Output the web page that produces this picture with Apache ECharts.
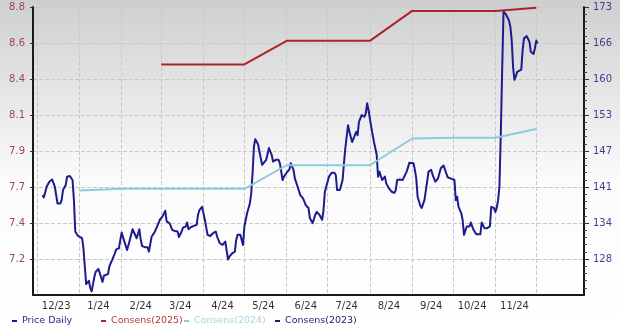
<!DOCTYPE html>
<html><head><meta charset="utf-8">
<script src="https://cdn.jsdelivr.net/npm/echarts@6/dist/echarts.min.js"></script>
<style>html,body{margin:0;padding:0;background:#fff}#c{width:620px;height:328px}</style>
</head><body><div id="c"></div>
<script>
// ---------- data ----------
const priceDates = [
'2023-12-05','2023-12-06','2023-12-08','2023-12-10','2023-12-12','2023-12-14','2023-12-16','2023-12-18','2023-12-19','2023-12-20','2023-12-22','2023-12-23','2023-12-25','2023-12-27','2023-12-28','2023-12-29','2023-12-31',
'2024-01-03','2024-01-04','2024-01-05','2024-01-06','2024-01-07','2024-01-08','2024-01-09','2024-01-10','2024-01-12','2024-01-13','2024-01-15','2024-01-16','2024-01-18','2024-01-19','2024-01-22','2024-01-23','2024-01-25','2024-01-27','2024-01-28','2024-01-30','2024-01-31',
'2024-02-01','2024-02-03','2024-02-05','2024-02-07','2024-02-09','2024-02-10','2024-02-12','2024-02-14','2024-02-15','2024-02-16','2024-02-18','2024-02-20','2024-02-21','2024-02-23','2024-02-25','2024-02-27','2024-02-29',
'2024-03-02','2024-03-04','2024-03-05','2024-03-07','2024-03-08','2024-03-09','2024-03-11','2024-03-13','2024-03-14','2024-03-16','2024-03-17','2024-03-19','2024-03-20','2024-03-21','2024-03-23','2024-03-25','2024-03-27','2024-03-28','2024-03-29','2024-03-31',
'2024-04-01','2024-04-02','2024-04-04','2024-04-06','2024-04-08','2024-04-10','2024-04-11','2024-04-13','2024-04-15','2024-04-17','2024-04-19','2024-04-20','2024-04-22','2024-04-24','2024-04-25','2024-04-26','2024-04-28','2024-04-30',
'2024-05-01','2024-05-03','2024-05-05','2024-05-06','2024-05-07','2024-05-08','2024-05-09','2024-05-11','2024-05-12','2024-05-14','2024-05-15','2024-05-17','2024-05-19','2024-05-21','2024-05-22','2024-05-24','2024-05-26','2024-05-27','2024-05-29','2024-05-30',
'2024-06-01','2024-06-03','2024-06-04','2024-06-06','2024-06-07','2024-06-09','2024-06-11','2024-06-12','2024-06-13','2024-06-15','2024-06-17','2024-06-18','2024-06-20','2024-06-22','2024-06-23','2024-06-25','2024-06-27','2024-06-28','2024-06-29','2024-06-30',
'2024-07-01','2024-07-02','2024-07-04','2024-07-06','2024-07-07','2024-07-08','2024-07-10','2024-07-12','2024-07-13','2024-07-14','2024-07-16','2024-07-17','2024-07-19','2024-07-20','2024-07-22','2024-07-23','2024-07-24','2024-07-26','2024-07-28','2024-07-29','2024-07-30','2024-07-31',
'2024-08-02','2024-08-04','2024-08-06','2024-08-07','2024-08-08','2024-08-10','2024-08-12','2024-08-13','2024-08-15','2024-08-17','2024-08-19','2024-08-20','2024-08-21','2024-08-23','2024-08-25','2024-08-26','2024-08-28','2024-08-30','2024-08-31',
'2024-09-02','2024-09-03','2024-09-04','2024-09-05','2024-09-07','2024-09-08','2024-09-10','2024-09-12','2024-09-13','2024-09-15','2024-09-16','2024-09-18','2024-09-20','2024-09-22','2024-09-24','2024-09-26','2024-09-27','2024-09-29','2024-09-30',
'2024-10-02','2024-10-03','2024-10-04','2024-10-05','2024-10-07','2024-10-08','2024-10-09','2024-10-11','2024-10-13','2024-10-14','2024-10-16','2024-10-18','2024-10-21','2024-10-22','2024-10-24','2024-10-26','2024-10-28','2024-10-29','2024-10-31',
'2024-11-01','2024-11-02','2024-11-03','2024-11-04','2024-11-05','2024-11-06','2024-11-07','2024-11-09','2024-11-11','2024-11-12','2024-11-13','2024-11-14','2024-11-15','2024-11-16','2024-11-17','2024-11-18','2024-11-20','2024-11-21','2024-11-22','2024-11-24','2024-11-26','2024-11-27','2024-11-29','2024-11-30',
'2024-12-01','2024-12-02'
];
const priceValues = [
139.1,138.7,140.6,141.5,141.9,140.6,137.6,137.6,138.2,140.0,140.9,142.4,142.5,141.8,138.2,132.6,131.8,
131.4,129.6,126.3,123.2,123.1,123.8,122.5,121.9,124.5,125.4,125.9,125.7,123.6,124.7,125.0,126.4,127.5,128.7,129.4,129.6,131.1,
132.4,130.8,129.3,131.1,133.0,132.7,131.4,133.0,131.1,130.0,129.8,129.8,129.0,131.7,132.4,133.5,134.7,
135.3,136.3,134.4,134.1,133.6,132.9,132.7,132.6,131.6,132.6,133.3,133.5,134.2,133.0,133.4,133.6,133.8,135.6,136.4,137.0,
137.3,134.7,132.0,131.8,132.3,132.6,131.7,130.5,130.2,130.8,127.6,128.1,128.7,129.0,131.1,132.0,132.0,130.2,
133.5,135.9,137.6,139.4,143.0,147.8,149.1,148.2,146.9,144.5,144.5,145.4,147.5,146.3,145.1,145.4,145.4,144.8,141.8,142.4,
143.1,143.7,144.8,143.6,142.1,140.6,139.1,139.4,138.5,137.3,136.8,135.0,134.1,135.6,136.1,135.6,134.7,136.4,139.7,140.6,
140.9,142.4,143.1,143.1,142.7,140.0,140.0,141.8,144.8,147.5,151.6,150.4,148.6,148.9,150.4,149.8,152.2,153.4,153.1,153.7,155.5,154.3,
151.3,148.6,146.3,142.4,143.3,141.8,142.4,141.2,140.3,139.7,139.5,140.0,141.8,141.9,141.8,142.1,143.3,144.9,145.1,
144.8,143.6,142.1,138.8,137.2,136.8,138.2,141.5,143.3,143.6,142.7,141.5,142.1,143.9,144.4,143.0,142.3,142.1,141.8,
141.8,138.2,138.8,137.0,135.9,134.7,132.0,133.5,133.5,134.2,132.9,132.1,132.1,134.2,133.2,133.2,133.5,137.0,136.8,
136.1,136.8,138.2,140.6,150.1,161.5,171.9,171.3,170.3,169.2,166.8,162.0,159.7,160.3,161.1,161.0,161.5,165.0,167.1,167.5,166.5,164.7,164.3,165.3,
166.7,166.2
];
const cons2025Dates = ['2024-03-01','2024-04-01','2024-05-01','2024-06-01','2024-07-01','2024-08-01','2024-09-01','2024-10-01','2024-11-01','2024-12-01'];
const cons2025Values = [8.45,8.45,8.45,8.60,8.60,8.60,8.79,8.79,8.79,8.81];
const cons2024Dates = ['2024-01-01','2024-02-01','2024-03-01','2024-04-01','2024-05-01','2024-06-01','2024-07-01','2024-08-01','2024-09-01','2024-10-01','2024-11-01','2024-12-01'];
const cons2024Values = [7.65,7.66,7.66,7.66,7.66,7.81,7.81,7.81,7.98,7.985,7.985,8.04];
const cons2023Dates = [];
const cons2023Values = [];

const monthLabels = ['12/23','1/24','2/24','3/24','4/24','5/24','6/24','7/24','8/24','9/24','10/24','11/24'];
const monthLabelDates = ['2023-12-15','2024-01-15','2024-02-15','2024-03-15','2024-04-15','2024-05-15','2024-06-15','2024-07-15','2024-08-15','2024-09-15','2024-10-15','2024-11-15'];
const monthGridDates = ['2023-12-01','2024-01-01','2024-02-01','2024-03-01','2024-04-01','2024-05-01','2024-06-01','2024-07-01','2024-08-01','2024-09-01','2024-10-01','2024-11-01','2024-12-01'];
const xStart = '2023-11-28', xEnd = '2025-01-05';

const leftTickLabels = ['7.2','7.4','7.7','7.9','8.1','8.4','8.6','8.8'];
const leftRange = [6.986, 8.815];
const rightTickLabels = ['128','134','141','147','153','160','166','173'];
const rightRange = [121.26, 172.7];

// ---------- build ----------
const ts = s => echarts.number.parseDate(s).getTime();
const zip = (d, v) => d.map((x, i) => [ts(x), v[i]]);
const ticksOf = (r, n) => { const st = (r[1]-r[0])/n; const a=[]; for (let i=1;i<=n;i++) a.push(r[0]+i*st); return a; };
const leftTicks = ticksOf(leftRange, 8);
const rightTicks = ticksOf(rightRange, 8);
const rightMinor = ticksOf(rightRange, 40).filter((v,i)=> (i+1)%5 !== 0);
const labelTs = monthLabelDates.map(ts);
const nearest = (arr, v) => arr.findIndex(t => Math.abs(t - v) < 1e-6 * Math.max(1, Math.abs(v)));

const FONT = 'DejaVu Sans';
const NAVY = '#1c1c8e', RED = '#a8262a', LBLUE = '#8fcadc', NAVY2 = '#1a1a66';

const chart = echarts.init(document.getElementById('c'), null, {renderer: 'canvas'});
const legendCommon = {
  orient: 'horizontal', icon: 'rect', itemWidth: 5, itemHeight: 2, padding: 0, itemGap: 0,
  selectedMode: false, top: 316
};
chart.setOption({
  animation: false,
  backgroundColor: new echarts.graphic.LinearGradient(0, 0, 0, 1, [
    {offset: 0, color: '#cfcfcf'}, {offset: 0.3, color: '#e7e7e7'}, {offset: 0.55, color: '#fbfbfb'}, {offset: 1, color: '#ffffff'}
  ]),
  grid: {left: 33, right: 36, top: 7, bottom: 33, containLabel: false},
  legend: [
    Object.assign({}, legendCommon, {left: 12, data: ['Price Daily'], textStyle: {color: '#2c2c85', fontFamily: FONT, fontSize: 9.5}}),
    Object.assign({}, legendCommon, {left: 101, data: ['Consens(2025)'], textStyle: {color: '#b03a3a', fontFamily: FONT, fontSize: 9.5}}),
    Object.assign({}, legendCommon, {left: 184, data: ['Consens(2024)'], textStyle: {color: '#a9d3e2', fontFamily: FONT, fontSize: 9.5}}),
    Object.assign({}, legendCommon, {left: 275, data: ['Consens(2023)'], textStyle: {color: '#22226e', fontFamily: FONT, fontSize: 9.5}})
  ],
  xAxis: {
    type: 'value', min: ts(xStart), max: ts(xEnd),
    axisLine: {show: true, onZero: false, lineStyle: {color: '#1a1a1a', width: 2}},
    axisTick: {show: false, customValues: monthGridDates.map(ts)},
    axisLabel: {customValues: labelTs, color: '#333', fontFamily: FONT, fontSize: 10, margin: 6,
      formatter: v => { const i = nearest(labelTs, v); return i >= 0 ? monthLabels[i] : ''; }},
    splitLine: {show: true, lineStyle: {type: 'dashed', color: '#c9c9c9', width: 1}}
  },
  yAxis: [
    {
      type: 'value', position: 'left', min: leftRange[0], max: leftRange[1],
      axisLine: {show: true, lineStyle: {color: '#1a1a1a', width: 2}},
      axisTick: {show: true, length: 3, customValues: leftTicks, lineStyle: {color: '#333'}},
      axisLabel: {customValues: leftTicks, color: '#a04848', fontFamily: FONT, fontSize: 10, margin: 8,
        formatter: v => { const i = nearest(leftTicks, v); return i >= 0 ? leftTickLabels[i] : ''; }},
      splitLine: {show: true, lineStyle: {type: 'dashed', color: '#c9c9c9', width: 1}}
    },
    {
      type: 'value', position: 'right', min: rightRange[0], max: rightRange[1],
      axisLine: {show: true, lineStyle: {color: '#1a1a1a', width: 2}},
      axisTick: {show: true, length: 5, customValues: rightTicks, lineStyle: {color: '#333'}},
      axisLabel: {customValues: rightTicks, color: '#3f3f8f', fontFamily: FONT, fontSize: 10, margin: 9,
        formatter: v => { const i = nearest(rightTicks, v); return i >= 0 ? rightTickLabels[i] : ''; }},
      splitLine: {show: false}
    },
    {
      type: 'value', position: 'right', min: rightRange[0], max: rightRange[1],
      axisLine: {show: false},
      axisTick: {show: true, length: 3, customValues: rightMinor, lineStyle: {color: '#444'}},
      axisLabel: {show: false},
      splitLine: {show: false}
    }
  ],
  series: [
    {name: 'Price Daily', type: 'line', yAxisIndex: 1, data: zip(priceDates, priceValues), showSymbol: false,
      color: NAVY, lineStyle: {color: NAVY, width: 2, join: 'round'}},
    {name: 'Consens(2025)', type: 'line', yAxisIndex: 0, data: zip(cons2025Dates, cons2025Values), showSymbol: false,
      color: RED, lineStyle: {color: RED, width: 2}},
    {name: 'Consens(2024)', type: 'line', yAxisIndex: 0, data: zip(cons2024Dates, cons2024Values), showSymbol: false,
      color: LBLUE, lineStyle: {color: LBLUE, width: 2}},
    {name: 'Consens(2023)', type: 'line', yAxisIndex: 0, data: zip(cons2023Dates, cons2023Values), showSymbol: false,
      color: NAVY2, lineStyle: {color: NAVY2, width: 2}}
  ]
});
</script></body></html>
